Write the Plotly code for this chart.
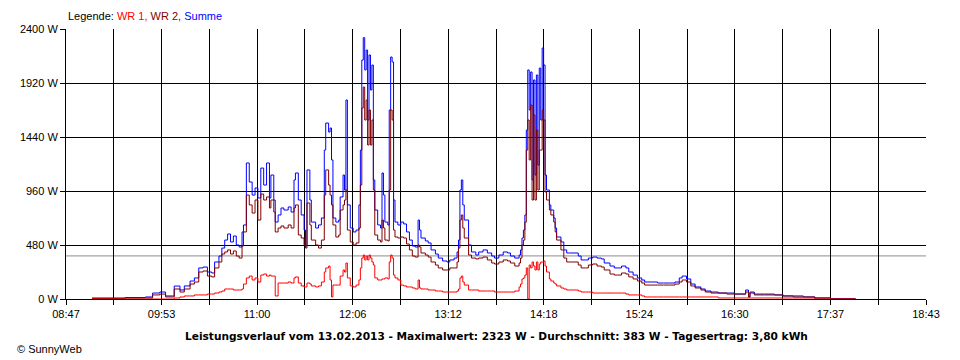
import plotly.graph_objects as go

# ---- data ----
times = [
    "09:05", "09:14", "09:28", "09:42", "09:47", "09:52", "09:56", "10:01", "10:02", "10:06",
    "10:09", "10:13", "10:16", "10:19", "10:22", "10:25", "10:28", "10:30", "10:33", "10:35",
    "10:37", "10:39", "10:41", "10:43", "10:45", "10:47", "10:49", "10:50", "10:52", "10:54",
    "10:56", "10:58", "11:00", "11:02", "11:04", "11:06", "11:08", "11:09", "11:11", "11:12",
    "11:14", "11:16", "11:18", "11:21", "11:23", "11:25", "11:26", "11:28", "11:30", "11:32",
    "11:33", "11:34", "11:36", "11:37", "11:40", "11:42", "11:44", "11:46", "11:47", "11:49",
    "11:50", "11:51", "11:52", "11:54", "11:56", "11:57", "11:59", "12:00", "12:01", "12:02",
    "12:04", "12:06", "12:08", "12:10", "12:11", "12:12", "12:13", "12:14", "12:15", "12:16",
    "12:17", "12:18", "12:19", "12:20", "12:21", "12:23", "12:25", "12:26", "12:27", "12:28",
    "12:30", "12:31", "12:32", "12:33", "12:34", "12:35", "12:37", "12:39", "12:41", "12:43",
    "12:45", "12:47", "12:49", "12:51", "12:52", "12:53", "12:56", "12:58", "13:00", "13:03",
    "13:05", "13:08", "13:11", "13:13", "13:16", "13:18", "13:19", "13:20", "13:21", "13:22",
    "13:23", "13:26", "13:28", "13:31", "13:33", "13:36", "13:39", "13:42", "13:44", "13:47",
    "13:50", "13:53", "13:55", "13:58", "14:01", "14:02", "14:03", "14:04", "14:05", "14:06",
    "14:07", "14:08", "14:09", "14:10", "14:11", "14:12", "14:13", "14:14", "14:15", "14:16",
    "14:17", "14:18", "14:19", "14:20", "14:22", "14:23", "14:25", "14:26", "14:27", "14:30",
    "14:32", "14:34", "14:36", "14:39", "14:42", "14:44", "14:47", "14:49", "14:52", "14:55",
    "14:58", "15:00", "15:04", "15:07", "15:09", "15:12", "15:15", "15:17", "15:20", "15:23",
    "15:26", "15:28", "15:33", "15:37", "15:41", "15:45", "15:49", "15:52", "15:54", "15:57",
    "16:00", "16:03", "16:07", "16:10", "16:14", "16:19", "16:25", "16:30", "16:36", "16:38",
    "16:40", "16:41", "16:44", "16:51", "16:58", "17:04", "17:11", "17:18", "17:26", "17:37",
    "17:45", "17:54",
]

summe = [
    9, 9, 13, 18, 53, 62, 27, 27, 115, 80,
    116, 160, 187, 276, 284, 240, 231, 329, 382, 453,
    524, 578, 507, 560, 480, 462, 596, 658, 1209, 1040,
    924, 987, 898, 1164, 1013, 1209, 898, 1102, 880, 684,
    747, 809, 791, 818, 773, 1058, 1120, 880, 747, 613,
    471, 1147, 880, 684, 631, 658, 720, 1324, 1564, 1484,
    1520, 1236, 720, 684, 702, 907, 1102, 969, 1769, 836,
    631, 596, 613, 836, 1324, 2124, 2323, 2036, 2213, 1591,
    2169, 1858, 2080, 1058, 791, 658, 631, 1120, 924, 684,
    658, 1680, 2151, 2107, 880, 684, 658, 684, 667, 596,
    524, 471, 462, 702, 613, 542, 516, 498, 436, 400,
    364, 338, 329, 347, 364, 418, 524, 969, 1058, 836,
    702, 480, 418, 391, 418, 436, 409, 382, 364, 391,
    418, 409, 382, 364, 391, 436, 542, 613, 747, 1502,
    2036, 1680, 2018, 1058, 1947, 1102, 1991, 1191, 2053, 1591,
    2231, 2080, 1102, 969, 836, 791, 720, 631, 551, 507,
    436, 409, 409, 409, 382, 347, 347, 364, 373, 364,
    356, 320, 293, 276, 276, 293, 276, 240, 213, 187,
    169, 151, 151, 142, 142, 142, 151, 187, 204, 178,
    133, 107, 89, 71, 62, 53, 53, 44, 44, 80,
    18, 62, 44, 44, 36, 27, 27, 18, 9, 4,
    4, 0,
]

wr2 = [
    4, 4, 9, 9, 36, 44, 18, 18, 89, 62,
    89, 133, 151, 240, 249, 204, 196, 276, 329, 400,
    418, 436, 400, 427, 382, 364, 471, 596, 924, 836,
    764, 880, 702, 933, 880, 907, 809, 880, 773, 596,
    631, 649, 631, 658, 631, 809, 836, 569, 542, 480,
    453, 853, 658, 524, 480, 453, 524, 924, 1147, 1013,
    924, 836, 658, 551, 569, 791, 836, 880, 969, 613,
    507, 480, 498, 631, 1013, 1698, 1884, 1591, 1769, 1369,
    1680, 1369, 1591, 969, 569, 524, 507, 702, 631, 524,
    516, 969, 1680, 1591, 613, 551, 542, 551, 542, 489,
    436, 382, 373, 480, 462, 409, 391, 373, 329, 302,
    276, 258, 258, 276, 276, 329, 453, 702, 747, 631,
    542, 391, 364, 356, 364, 373, 347, 320, 311, 329,
    347, 338, 320, 293, 320, 364, 480, 524, 684, 1324,
    1591, 1236, 1724, 880, 1636, 880, 1502, 969, 1324, 1324,
    1680, 1591, 951, 880, 791, 747, 684, 596, 524, 436,
    364, 329, 329, 329, 302, 276, 276, 302, 311, 293,
    284, 258, 222, 213, 213, 231, 222, 196, 178, 160,
    142, 124, 124, 124, 124, 124, 133, 151, 169, 151,
    116, 98, 80, 62, 53, 53, 44, 44, 44, 62,
    18, 53, 36, 36, 36, 27, 18, 18, 9, 0,
    0, 0,
]

wr1 = [
    0, 0, 0, 0, 0, 0, 0, 0, 9, 18,
    27, 27, 36, 36, 36, 44, 44, 53, 62, 71,
    89, 89, 89, 80, 80, 80, 89, 133, 187, 204,
    169, 187, 151, 213, 222, 204, 213, 204, 204, 27,
    142, 142, 142, 151, 142, 187, 196, 142, 116, 107,
    107, 142, 133, 116, 107, 116, 151, 240, 276, 293,
    169, 18, 124, 124, 124, 204, 258, 240, 320, 187,
    116, 107, 124, 169, 276, 364, 391, 347, 382, 347,
    391, 364, 329, 302, 187, 169, 169, 178, 178, 187,
    178, 329, 391, 364, 213, 187, 169, 124, 116, 107,
    107, 98, 89, 169, 98, 89, 89, 80, 80, 71,
    71, 62, 62, 62, 62, 71, 89, 187, 204, 151,
    124, 80, 80, 80, 71, 71, 71, 71, 62, 62,
    62, 62, 62, 71, 107, 133, 178, 187, 213, 276,
    0, 302, 276, 329, 293, 258, 329, 258, 311, 329,
    329, 338, 293, 240, 178, 160, 142, 133, 116, 98,
    89, 80, 80, 80, 71, 62, 62, 62, 53, 53,
    53, 53, 53, 53, 53, 53, 44, 36, 36, 36,
    27, 18, 18, 18, 18, 18, 18, 18, 18, 18,
    18, 18, 18, 18, 18, 9, 9, 9, 9, 9,
    9, 9, 9, 9, 9, 9, 9, 9, 0, 0,
    0, 0,
]

durchschnitt = 383
x_tick_labels = ["08:47", "09:53", "11:00", "12:06", "13:12",
                 "14:18", "15:24", "16:30", "17:37", "18:43"]
y_tick_values = [0, 480, 960, 1440, 1920, 2400]
title_text = ("Leistungsverlauf vom 13.02.2013 - Maximalwert: 2323 W - "
              "Durchschnitt: 383 W - Tagesertrag: 3,80 kWh")


def to_min(s):
    h, m = s.split(":")
    return int(h) * 60 + int(m)


x = [to_min(t) for t in times]

# axis: from first to last label, 18 grid intervals, label every second one
x0, x1 = to_min(x_tick_labels[0]), to_min(x_tick_labels[-1])
n_int = 2 * (len(x_tick_labels) - 1)
tickvals = [x0 + (x1 - x0) * i / n_int for i in range(n_int + 1)]
ticktext = [x_tick_labels[i // 2] if i % 2 == 0 else "" for i in range(n_int + 1)]

FONT = "Liberation Sans, Arial, sans-serif"
PLOT_W, PLOT_H = 870, 270

fig = go.Figure()
fig.add_trace(go.Scatter(x=x, y=summe, mode="lines", line=dict(color="#0000FF", width=1, shape="hv"), name="Summe"))
fig.add_trace(go.Scatter(x=x, y=wr2, mode="lines", line=dict(color="#800000", width=1, shape="hv"), name="WR 2"))
fig.add_trace(go.Scatter(x=x, y=wr1, mode="lines", line=dict(color="#FF0000", width=1, shape="hv"), name="WR 1"))

fig.add_shape(type="line", xref="paper", x0=0, x1=1, yref="y", y0=durchschnitt, y1=durchschnitt,
              line=dict(color="#8C8C8C", width=1), layer="below")

# page body has an 8px margin -> figure is placed at (8, 8)
fig.update_layout(
    width=944, height=352,
    margin=dict(l=52, r=22, t=21, b=61),
    paper_bgcolor="white", plot_bgcolor="white",
    showlegend=False,
    font=dict(family=FONT, size=11, color="black"),
    xaxis=dict(range=[x0, x1], tickvals=tickvals, ticktext=ticktext,
               showgrid=True, gridcolor="black", gridwidth=1,
               showline=True, linecolor="black", linewidth=1,
               ticks="outside", ticklen=5, tickcolor="black", tickwidth=1,
               zeroline=False, fixedrange=True),
    yaxis=dict(range=[0, 2400], tickvals=y_tick_values,
               ticktext=[f"{v} W" for v in y_tick_values],
               showgrid=True, gridcolor="black", gridwidth=1,
               showline=True, linecolor="black", linewidth=1,
               ticks="outside", ticklen=5, tickcolor="black", tickwidth=1,
               zeroline=False, fixedrange=True),
    annotations=[
        dict(xref="paper", yref="paper", x=0, y=1 + 13 / PLOT_H, xanchor="left", yanchor="middle",
             showarrow=False, font=dict(size=11),
             text=("Legende: <span style='color:#FF0000'>WR 1, </span>"
                   "<span style='color:#800000'>WR 2, </span>"
                   "<span style='color:#0000FF'>Summe</span>")),
        dict(xref="paper", yref="paper", x=0.5, y=-37 / PLOT_H, xanchor="center", yanchor="middle",
             showarrow=False, font=dict(size=10.6, family="DejaVu Sans, sans-serif"),
             text="<b>" + title_text + "</b>"),
        dict(xref="paper", yref="paper", x=-52 / PLOT_W, y=-50 / PLOT_H, xanchor="left", yanchor="middle",
             showarrow=False, font=dict(size=11), text="© SunnyWeb"),
    ],
)

fig.write_html("out.html")
